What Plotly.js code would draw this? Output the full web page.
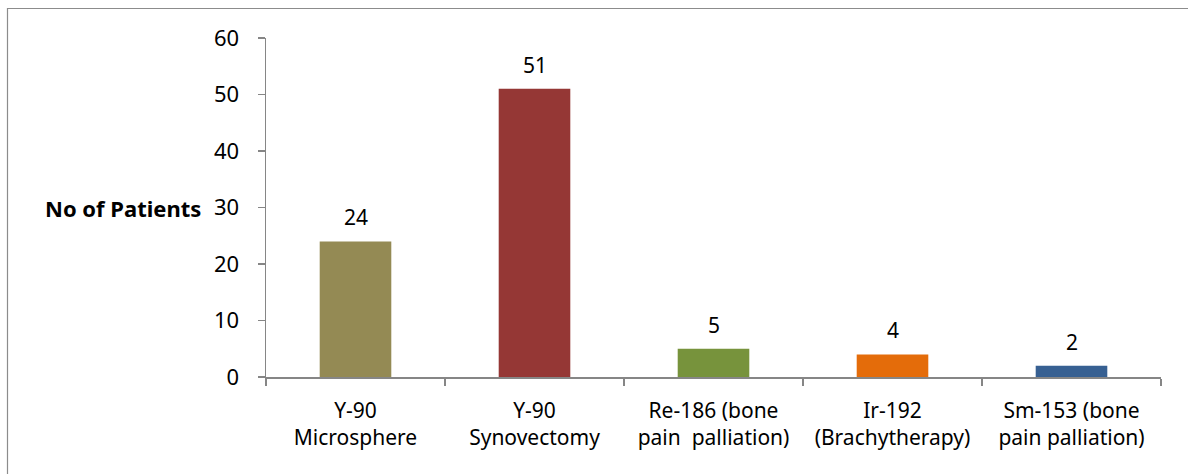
<!DOCTYPE html>
<html>
<head>
<meta charset="utf-8">
<script src="https://cdn.plot.ly/plotly-3.0.1.min.js"></script>
<style>
  html, body { margin: 0; padding: 0; background: #fff; }
  #chart { width: 1188px; height: 474px; }
</style>
</head>
<body>
<div id="chart"></div>
<script>
const categories = [
  "Y-90<br>Microsphere",
  "Y-90<br>Synovectomy",
  "Re-186 (bone<br>pain  palliation)",
  "Ir-192<br>(Brachytherapy)",
  "Sm-153 (bone<br>pain palliation)"
];
const patients = [24, 51, 5, 4, 2];
const barColors = ["#948A54", "#953735", "#77933C", "#E46C0A", "#376092"];
const yTicks = [0, 10, 20, 30, 40, 50, 60];
const yTitle = "No of Patients";

const FONT = "Noto Sans, Open Sans, sans-serif";
const ml = 266, mr = 27, mt = 38, mb = 97, W = 1188, H = 474;
const pw = W - ml - mr, ph = H - mt - mb;

const trace = {
  type: "bar",
  x: categories,
  y: patients,
  marker: { color: barColors, line: { width: 0 } },
  width: 0.4,
  hoverinfo: "x+y",
  cliponaxis: false
};

const annotations = categories.map((c, i) => ({
  x: c, y: patients[i], xref: "x", yref: "y",
  text: String(patients[i]),
  showarrow: false, yanchor: "bottom", yshift: 8,
  font: { family: FONT, size: 21, color: "#000" }
}));
annotations.push({
  xref: "paper", yref: "y", x: (203 - ml) / pw, y: 30, xanchor: "right", yanchor: "middle",
  text: "<b>" + yTitle + "</b>", showarrow: false,
  font: { family: FONT, size: 22, color: "#000" }
});

const layout = {
  width: W, height: H,
  margin: { l: ml, r: mr, t: mt, b: mb, pad: 0 },
  paper_bgcolor: "#fff", plot_bgcolor: "#fff",
  showlegend: false,
  bargap: 0.6,
  xaxis: {
    type: "category",
    tickson: "boundaries",
    ticks: "outside", ticklen: 7, tickcolor: "#868686", tickwidth: 1.5,
    showline: true, linecolor: "#868686", linewidth: 1.5,
    showgrid: false, zeroline: false,
    ticklabelstandoff: 14,
    tickfont: { family: FONT, size: 21, color: "#000" },
    automargin: false
  },
  yaxis: {
    range: [0, 60],
    tickvals: yTicks,
    ticktext: yTicks.map(String),
    ticks: "outside", ticklen: 7, tickcolor: "#868686", tickwidth: 1.5,
    showline: true, linecolor: "#868686", linewidth: 1.5,
    showgrid: false, zeroline: false,
    ticklabelstandoff: 14,
    tickfont: { family: FONT, size: 22, color: "#000" },
    automargin: false
  },
  annotations: annotations,
  shapes: [{
    type: "rect", xref: "paper", yref: "paper", layer: "below",
    x0: (7.5 - ml) / pw, x1: (W + 20 - ml) / pw,
    y0: -(H + 20 - (mt + ph)) / ph, y1: 1 + (mt - 8.5) / ph,
    line: { color: "#8C8C8C", width: 1.2 }, fillcolor: "rgba(0,0,0,0)"
  }]
};

Plotly.newPlot("chart", [trace], layout, { displayModeBar: false, staticPlot: true });
</script>
</body>
</html>
